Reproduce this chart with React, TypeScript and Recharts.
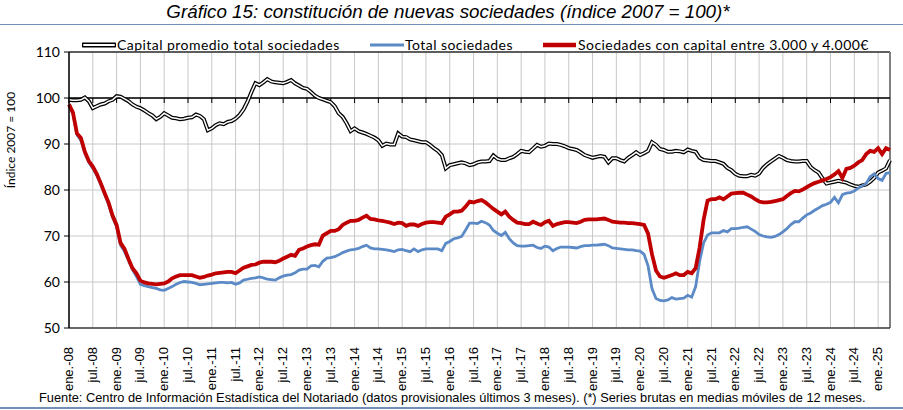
import React from "react";
import {
  LineChart,
  Line,
  XAxis,
  YAxis,
  CartesianGrid,
  ReferenceLine,
} from "recharts";

// Spanish month abbreviations used in the axis labels
const MONTHS = ["ene.", "feb.", "mar.", "abr.", "may.", "jun.", "jul.", "ago.", "sep.", "oct.", "nov.", "dic."];
const FIRST_YEAR = 2008;

const Y_TICKS = [50, 60, 70, 80, 90, 100, 110];

// Capital promedio total sociedades (ene-08 .. abr-25)
const capitalPromedio = [
  99.6, 99.5, 99.5, 99.6, 100.1, 99.3, 97.8, 98.2, 98.6, 98.8, 99.3, 99.6,
  100.4, 100.3, 99.8, 99.3, 98.6, 98.1, 97.8, 97.3, 96.7, 96.2, 95.4, 95.9,
  96.7, 96.2, 95.7, 95.6, 95.4, 95.5, 95.7, 95.8, 96.4, 96.1, 95.4, 93.0,
  93.4, 94.1, 94.5, 94.3, 94.8, 95.0, 95.5, 96.3, 97.5, 99.2, 101.3, 103.2,
  102.8, 103.4, 104.1, 103.6, 103.4, 103.3, 103.2, 103.5, 103.9, 103.2, 102.7, 102.2,
  102.0, 101.3, 100.5, 100.0, 99.7, 99.4, 99.1, 98.2, 96.7, 95.9, 94.5, 92.8,
  93.4, 92.8, 92.5, 92.2, 91.8, 91.4, 90.8, 89.6, 90.1, 89.9, 89.9, 92.3,
  91.6, 91.5, 91.0, 90.8, 90.6, 90.4, 90.4, 89.8, 89.1, 88.5, 87.6, 84.7,
  85.4, 85.6, 85.8, 86.0, 85.8, 85.4, 85.6, 86.0, 86.2, 86.2, 86.3, 87.5,
  86.8, 86.5, 86.5, 86.9, 87.2, 87.8, 88.5, 88.3, 88.2, 89.0, 89.8, 89.4,
  89.6, 90.1, 90.0, 90.0, 89.8, 89.5, 89.1, 88.9, 88.7, 88.2, 87.6, 87.3,
  87.0, 87.2, 87.4, 87.2, 86.0, 86.9, 86.9, 86.5, 86.2, 87.0, 87.6, 88.2,
  87.6, 88.0, 88.5, 90.4, 89.8, 88.9, 88.7, 88.3, 88.3, 88.5, 88.4, 88.2,
  88.8, 88.5, 88.3, 87.0, 86.5, 86.4, 86.3, 86.3, 86.0, 85.7, 84.8, 84.3,
  83.5, 83.1, 83.0, 83.0, 83.3, 83.1, 83.6, 84.8, 85.6, 86.2, 86.8, 87.4,
  87.0, 86.5, 86.3, 86.2, 86.2, 86.3, 86.3, 85.0, 84.3, 83.8, 82.5, 81.4,
  81.6, 81.8, 82.0, 81.8, 81.6, 81.2, 80.9, 80.7, 81.0, 81.2, 81.8, 82.6,
  83.8, 84.2, 84.7, 86.5,
];

// Total sociedades
const totalSociedades = [
  98.4, 96.5, 92.0, 90.8, 88.0, 86.0, 84.7, 83.2, 81.2, 79.0, 76.8, 74.0,
  72.0, 68.0, 66.6, 64.7, 62.7, 61.2, 59.5, 59.2, 59.0, 58.8, 58.6, 58.3,
  58.2, 58.6, 59.0, 59.5, 59.9, 60.1, 60.0, 59.9, 59.7, 59.4, 59.5, 59.6,
  59.7, 59.8, 59.9, 59.9, 59.8, 59.9, 59.5, 59.8, 60.4, 60.6, 60.8, 60.9,
  61.1, 60.9, 60.6, 60.5, 60.4, 60.9, 61.3, 61.5, 61.6, 62.0, 62.6, 62.8,
  62.8, 63.5, 63.6, 63.3, 64.5, 65.2, 65.3, 65.5, 65.9, 66.4, 66.7, 67.0,
  67.1, 67.3, 67.7, 68.0, 67.4, 67.2, 67.2, 67.1, 67.0, 66.8, 66.6, 67.0,
  67.1, 66.8, 66.6, 67.2, 66.6, 67.0, 67.2, 67.2, 67.2, 67.2, 66.8, 68.4,
  68.8, 69.4, 69.6, 69.9, 71.3, 72.8, 72.8, 72.7, 73.2, 72.9, 72.4, 71.2,
  70.6, 70.1, 70.8, 69.4, 68.5, 67.9, 67.8, 67.8, 67.9, 68.0, 67.5, 67.3,
  67.8, 67.6, 66.8, 67.3, 67.6, 67.6, 67.6, 67.5, 67.4, 67.7, 67.9, 67.9,
  68.0, 68.0, 68.1, 68.2, 67.9, 67.4, 67.3, 67.2, 67.1, 67.0, 67.0, 66.8,
  66.7, 66.0, 63.5, 58.5, 56.4, 56.0, 55.9, 56.1, 56.6, 56.3, 56.4, 56.5,
  57.1, 56.7, 59.0, 64.5, 68.5, 70.2, 70.7, 70.7, 70.7, 71.2, 70.9, 71.6,
  71.6, 71.7, 71.9, 72.0, 71.5, 71.0, 70.3, 70.0, 69.8, 69.7, 69.9, 70.3,
  70.9, 71.6, 72.5, 73.1, 73.1, 73.9, 74.6, 75.0, 75.6, 76.1, 76.6, 76.9,
  77.3, 78.4, 77.2, 79.0, 79.3, 79.4, 79.8, 80.4, 80.9, 81.4, 82.9, 83.5,
  82.5, 82.1, 83.6, 83.8,
];

// Sociedades con capital entre 3.000 y 4.000 €
const capital3000a4000 = [
  98.6, 96.8, 92.3, 91.3, 88.3, 86.3, 85.1, 83.5, 81.5, 79.3, 77.2, 74.4,
  72.4, 68.5, 67.2, 65.0, 63.0, 61.9, 60.3, 59.9, 59.7, 59.6, 59.5, 59.6,
  59.7, 60.1, 60.8, 61.2, 61.5, 61.5, 61.5, 61.5, 61.2, 60.9, 61.1, 61.4,
  61.6, 61.9, 62.0, 62.1, 62.2, 62.2, 61.9, 62.5, 63.1, 63.4, 63.7, 63.8,
  64.2, 64.4, 64.4, 64.4, 64.3, 64.6, 65.1, 65.5, 65.9, 65.7, 67.0, 67.3,
  67.7, 68.0, 68.2, 68.1, 70.1, 70.6, 71.1, 71.1, 71.5, 72.4, 72.9, 73.3,
  73.3, 73.5, 74.0, 74.4, 73.7, 73.6, 73.4, 73.3, 73.1, 72.9, 72.6, 72.9,
  72.8, 72.2, 72.5, 72.5, 72.2, 72.6, 72.9, 73.0, 73.0, 72.9, 72.8, 74.2,
  74.7, 75.3, 75.3, 75.5, 76.4, 77.5, 77.3, 77.6, 77.8, 77.3, 76.6, 75.9,
  75.3, 74.7, 75.3, 74.2, 73.5, 72.9, 72.8, 72.6, 72.6, 73.1, 72.7, 72.4,
  73.0, 73.3, 72.2, 72.6, 72.8, 73.0, 73.0, 72.9, 72.8, 73.1, 73.5, 73.6,
  73.6, 73.6, 73.7, 73.8, 73.5, 73.1, 73.0, 72.9, 72.9, 72.8, 72.8, 72.7,
  72.6, 72.4, 70.5, 66.0, 62.5, 61.2, 60.9, 61.2, 61.5, 61.9, 61.5, 61.5,
  62.2, 61.9, 63.0, 67.5, 73.5, 77.7, 78.0, 78.0, 78.4, 78.0, 78.6, 79.2,
  79.3, 79.4, 79.4, 79.0, 78.6, 78.0, 77.5, 77.3, 77.3, 77.4, 77.6, 77.8,
  78.0, 78.7, 79.3, 79.8, 79.7, 80.1, 80.6, 81.1, 81.5, 81.8, 82.1, 82.4,
  82.8, 83.4, 84.1, 82.6, 84.6, 84.8, 85.3, 86.0, 86.5, 87.8, 88.5, 88.3,
  89.1, 87.8, 89.1, 88.7,
];

const categories = capitalPromedio.map((_, i) => {
  const year = FIRST_YEAR + Math.floor(i / 12);
  return `${MONTHS[i % 12]}-${String(year).slice(2)}`;
});

const data = categories.map((mes, i) => ({
  mes,
  capital: capitalPromedio[i],
  total: totalSociedades[i],
  rango: capital3000a4000[i],
}));

const ARIAL = "'Liberation Sans', Arial, sans-serif";
const CALIBRI = "Lato, 'Open Sans', sans-serif";
const BLUE = "#5b8ac6";
const RED = "#c00000";
const RULE = "#7391b8";

const MonthTick = (props: any) => {
  const { x, y, payload } = props;
  return (
    <text
      transform={`translate(${x + 4},${y + 11}) rotate(-90)`}
      textAnchor="end"
      fontFamily={ARIAL}
      fontSize={13}
      fill="#000"
    >
      {payload.value}
    </text>
  );
};

// axis line crossing at 100 with small tick marks every 6 months
const CrossAxis = (props: any) => {
  const { x1, y1, x2, y2 } = props;
  if (x1 == null) return null;
  const n = categories.length - 1;
  const marks = categories
    .map((_, i) => i)
    .filter((i) => i % 6 === 0)
    .map((i) => x1 + ((x2 - x1) * i) / n);
  return (
    <g>
      <line x1={x1} y1={y1} x2={x2} y2={y2} stroke="#000" strokeWidth={1.5} />
      {marks.map((mx, k) => (
        <line key={k} x1={mx} y1={y1} x2={mx} y2={y1 + 5} stroke="#000" strokeWidth={1} />
      ))}
    </g>
  );
};

const LegendItem = ({ left, label, kind }: { left: number; label: string; kind: string }) => (
  <div style={{ position: "absolute", left, top: 0, display: "flex", alignItems: "center", whiteSpace: "nowrap" }}>
    <svg width={34} height={10} style={{ marginRight: 1 }}>
      {kind === "double" && (
        <>
          <line x1={1} y1={5} x2={33} y2={5} stroke="#000" strokeWidth={5} strokeLinecap="round" />
          <line x1={2} y1={5} x2={32} y2={5} stroke="#fff" strokeWidth={2} strokeLinecap="round" />
        </>
      )}
      {kind === "blue" && <line x1={0} y1={5} x2={34} y2={5} stroke={BLUE} strokeWidth={3} />}
      {kind === "red" && <line x1={0} y1={5} x2={33} y2={5} stroke={RED} strokeWidth={4.5} />}
    </svg>
    <span style={{ fontFamily: CALIBRI, fontSize: 14, color: "#000", letterSpacing: 0.45 }}>{label}</span>
  </div>
);

export default function App() {
  return (
    <div style={{ position: "absolute", left: 0, top: 0, width: 903, height: 410, background: "#fff", overflow: "hidden" }}>
      <div
        style={{
          position: "absolute",
          left: 0,
          top: 1,
          width: 896,
          textAlign: "center",
          fontFamily: ARIAL,
          fontStyle: "italic",
          fontSize: 18.8,
          color: "#000",
        }}
      >
        Gráfico 15: constitución de nuevas sociedades (índice 2007 = 100)*
      </div>
      <div style={{ position: "absolute", left: 0, top: 23.5, width: 903, height: 1.5, background: RULE }} />

      <div style={{ position: "absolute", left: 0, top: 36, width: 903, height: 20 }}>
        <LegendItem left={82} label="Capital promedio total sociedades" kind="double" />
        <LegendItem left={370} label="Total sociedades" kind="blue" />
        <LegendItem left={543} label="Sociedades con capital entre 3.000 y 4.000€" kind="red" />
      </div>

      <div
        style={{
          position: "absolute",
          left: 10,
          top: 140,
          transform: "translate(-50%, -50%) rotate(-90deg)",
          fontFamily: CALIBRI,
          fontSize: 12,
          whiteSpace: "nowrap",
          color: "#000",
        }}
      >
        Índice 2007 = 100
      </div>

      <div style={{ position: "absolute", left: 0, top: 0 }}>
        <LineChart width={903} height={410} data={data} margin={{ top: 52, right: 13, bottom: 22, left: 0 }}>
          <CartesianGrid stroke="#c8c8c8" strokeWidth={1} />
          <XAxis
            dataKey="mes"
            interval={5}
            height={60}
            tick={<MonthTick />}
            tickLine={false}
            axisLine={{ stroke: "#404040", strokeWidth: 1.5 }}
          />
          <YAxis
            domain={[50, 110]}
            ticks={Y_TICKS}
            width={69}
            tickSize={5}
            tickMargin={4}
            tickLine={{ stroke: "#000" }}
            axisLine={{ stroke: "#000", strokeWidth: 1.5 }}
            tick={{ fontFamily: CALIBRI, fontSize: 14, fill: "#000" }}
            allowDataOverflow
          />
          <ReferenceLine y={110} stroke="#303030" strokeWidth={1.5} />
          <ReferenceLine x={categories[categories.length - 1]} stroke="#808080" strokeWidth={2} />
          <ReferenceLine y={100} shape={<CrossAxis />} />
          <Line
            dataKey="capital"
            type="linear"
            stroke="#000"
            strokeWidth={4}
            dot={false}
            isAnimationActive={false}
          />
          <Line
            dataKey="capital"
            type="linear"
            stroke="#fff"
            strokeWidth={1.5}
            dot={false}
            isAnimationActive={false}
          />
          <Line
            dataKey="total"
            type="linear"
            stroke={BLUE}
            strokeWidth={2.8}
            dot={false}
            isAnimationActive={false}
          />
          <Line
            dataKey="rango"
            type="linear"
            stroke={RED}
            strokeWidth={3.8}
            dot={false}
            isAnimationActive={false}
          />
        </LineChart>
      </div>

      <div
        style={{
          position: "absolute",
          left: 39,
          top: 390,
          fontFamily: ARIAL,
          fontSize: 12.8,
          whiteSpace: "nowrap",
          color: "#000",
        }}
      >
        Fuente: Centro de Información Estadística del Notariado (datos provisionales últimos 3 meses). (*) Series brutas en medias móviles de 12 meses.
      </div>
      <div style={{ position: "absolute", left: 0, top: 407, width: 903, height: 1.5, background: RULE }} />
    </div>
  );
}
